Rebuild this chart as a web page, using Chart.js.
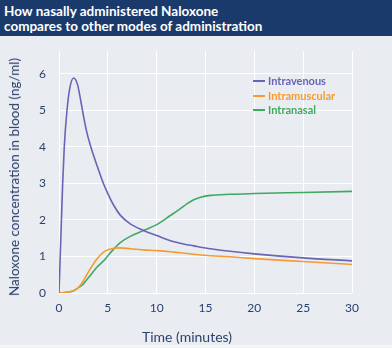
<!DOCTYPE html>
<html>
<head>
<meta charset="utf-8">
<script src="https://cdn.jsdelivr.net/npm/chart.js@4.4.1/dist/chart.umd.min.js"></script>
<style>
  html, body { margin: 0; padding: 0; }
  body { width: 392px; height: 348px; background: #e9edf1; position: relative; overflow: hidden; font-family: Lato, "Open Sans", sans-serif; }
  #header { position: absolute; left: 0; top: 0; width: 392px; height: 36px; background: #1b3a6c; color: #ffffff; font-weight: bold; font-size: 13.5px; line-height: 14.5px; padding: 4px 0 0 4px; box-sizing: border-box; z-index: 2; }
  #wrap { position: absolute; left: 0; top: 0; width: 392px; height: 348px; }
  #ytitle { position: absolute; left: 14px; top: 177px; transform: translate(-50%, -50%) rotate(-90deg); white-space: nowrap; color: #2c416f; font-size: 13.5px; z-index: 2; }
  #xtitle { position: absolute; left: 187px; top: 336px; transform: translate(-50%, -50%); white-space: nowrap; color: #2c416f; font-size: 14px; z-index: 2; }
  #legend { position: absolute; left: 253px; top: 74px; z-index: 2; font-size: 11px; font-weight: bold; }
  #legend .item { height: 14.5px; line-height: 14px; white-space: nowrap; }
  #legend .sw { display: inline-block; width: 12px; height: 2px; vertical-align: middle; margin-right: 3px; position: relative; top: -1px; }
  #bottom { position: absolute; left: 0; top: 345px; width: 392px; height: 3px; background: #f3f5f7; z-index: 2; }
</style>
</head>
<body>
<div id="header">How nasally administered Naloxone<br>compares to other modes of administration</div>
<div id="wrap"><canvas id="c" width="392" height="348"></canvas></div>
<div id="ytitle">Naloxone concentration in blood (ng/ml)</div>
<div id="xtitle">Time (minutes)</div>
<div id="legend"></div>
<div id="bottom"></div>
<script>
const times        = [0, 0.2, 0.37, 0.54, 0.82, 1.1, 1.5, 1.9, 2.2, 2.5, 2.8, 3.2, 3.9, 4.57, 5, 5.6, 6.27, 7.3, 8.66, 10, 11.4, 12.4, 13.1, 13.8, 14.5, 15.5, 17.5, 20, 25, 30];
const intravenous  = [0, 1.6, 2.95, 4.0, 5.0, 5.6, 5.88, 5.7, 5.3, 4.85, 4.45, 4.05, 3.48, 2.98, 2.72, 2.4, 2.13, 1.89, 1.71, 1.57, 1.43, 1.36, 1.32, 1.29, 1.25, 1.21, 1.14, 1.07, 0.96, 0.88];
const intramuscular= [0, 0.002, 0.005, 0.01, 0.02, 0.03, 0.06, 0.13, 0.22, 0.34, 0.48, 0.66, 0.94, 1.12, 1.18, 1.225, 1.235, 1.21, 1.18, 1.16, 1.13, 1.1, 1.08, 1.06, 1.04, 1.02, 0.99, 0.94, 0.86, 0.78];
const intranasal   = [0, 0.002, 0.005, 0.01, 0.02, 0.03, 0.06, 0.13, 0.18, 0.25, 0.35, 0.48, 0.71, 0.88, 1.02, 1.2, 1.38, 1.55, 1.71, 1.87, 2.12, 2.3, 2.44, 2.55, 2.62, 2.67, 2.70, 2.72, 2.75, 2.78];
const seriesNames  = ["Intravenous", "Intramuscular", "Intranasal"];
const seriesColors = ["#6a63b6", "#f59b30", "#41a862"];
const xTicks = [0, 5, 10, 15, 20, 25, 30];
const yTicks = [0, 1, 2, 3, 4, 5, 6];

const seriesValues = [intravenous, intramuscular, intranasal];
const datasets = seriesValues.map((vals, i) => ({
  label: seriesNames[i],
  data: times.map((t, j) => ({ x: t, y: vals[j] })),
  borderColor: seriesColors[i],
  backgroundColor: seriesColors[i],
  borderWidth: 1.6,
  pointRadius: 0,
  fill: false,
  cubicInterpolationMode: 'monotone'
}));

const tickColor = '#2c416f';
new Chart(document.getElementById('c'), {
  type: 'line',
  data: { datasets },
  options: {
    responsive: false,
    animation: false,
    layout: { padding: { left: 0, right: 40, top: 51, bottom: 33 } },
    plugins: { legend: { display: false }, title: { display: false }, tooltip: { enabled: false } },
    scales: {
      x: {
        type: 'linear', min: 0, max: 30,
        afterFit: s => { s.height = 22; },
        afterBuildTicks: s => { s.ticks = xTicks.map(v => ({ value: v })); },
        grid: { color: '#ffffff', lineWidth: 1, drawTicks: false },
        border: { display: false },
        ticks: { color: tickColor, font: { family: 'Lato', size: 12 }, padding: 8, maxRotation: 0, autoSkip: false }
      },
      y: {
        type: 'linear', min: 0, max: 6.62,
        afterFit: s => { s.width = 59; },
        afterBuildTicks: s => { s.ticks = yTicks.map(v => ({ value: v })); },
        grid: { color: '#ffffff', lineWidth: 1, drawTicks: false },
        border: { display: false },
        ticks: { color: tickColor, font: { family: 'Lato', size: 12 }, padding: 13 }
      }
    }
  }
});

const leg = document.getElementById('legend');
seriesNames.forEach((n, i) => {
  const d = document.createElement('div');
  d.className = 'item';
  d.style.color = seriesColors[i];
  d.innerHTML = '<span class="sw" style="background:' + seriesColors[i] + '"></span>' + n;
  leg.appendChild(d);
});
</script>
</body>
</html>
